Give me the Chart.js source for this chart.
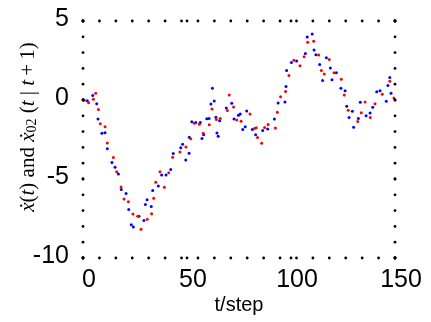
<!DOCTYPE html>
<html>
<head>
<meta charset="utf-8">
<script src="https://cdn.jsdelivr.net/npm/chart.js@4.4.1/dist/chart.umd.min.js"></script>
<style>
  html, body { margin: 0; padding: 0; background: #fff; }
</style>
</head>
<body>
<canvas id="myChart" width="431" height="322"></canvas>
<script>
// values
var blueT = [0.2, 2.1, 4.7, 6.6, 7.2, 9.1, 10.6, 11.7, 13.9, 15.4, 17, 18.4, 20.7, 22, 23.2, 24.2, 26.9, 29.3, 30, 30.8,
  32.8, 33.5, 36.2, 37.8, 39.9, 42.2, 43.4, 47, 47.9, 49.4, 51, 51.1, 52.3, 54.2, 56.4, 57.2, 58, 59.5, 60.6, 61.5,
  62.2, 63.1, 63.9, 64.4, 65, 65.7, 68.9, 71.5, 72.6, 74.7, 75.6, 76.8, 78, 78.7, 81.4, 83, 86.4, 88.8, 92, 93.8,
  97.1, 97.6, 97.9, 100.2, 102.7, 106.9, 107.8, 110.2, 111.1, 112, 113.8, 115.2, 117, 118.9, 119.7, 121.8, 124, 126, 126.8, 127.9,
  129.5, 130.1, 132.4, 133.3, 136.1, 138, 139.3, 141.2, 142.8, 145.8, 146.6, 147.5, 148.1];
var blueV = [0.02, -0.04, 0.29, -0.23, -1.2, -2.1, -2.07, -3.08, -3.96, -4.25, -4.69, -5.67, -5.92, -6.93, -7.9, -8.04, -7.35, -7.62, -6.61, -6.32,
  -6.74, -5.73, -5.44, -4.75, -4.75, -4.4, -3.39, -3.02, -2.8, -3.79, -3.37, -2.35, -1.38, -1.43, -1.43, -2.43, -2.2, -1.19, -1.17, -0.25,
  0.75, -0.07, -1.09, -2.09, -2.3, -1.32, -0.5, -0.21, -1.21, -0.96, -0.88, -1.86, -1.7, -0.69, -1.86, -2.2, -1.93, -1.84, -1.2, -0.19,
  -0.13, 0.86, 1.86, 2.38, 2.47, 2.95, 3.98, 4.18, 3.16, 2.87, 2.24, 1.23, 2.68, 2.03, 1.28, 1.72, 0.75, 0.59, -0.4, -1.11,
  -0.71, -1.72, -1.17, -0.15, -1.0, -0.82, -0.46, 0.52, 0.59, -0.08, 0.92, 1.42, 0.42];

var redT = [0.6, 2.7, 5, 6.1, 7.4, 8.3, 10.6, 11.7, 14.6, 16.2, 18.3, 19.7, 21.8, 24, 26.3, 27.9, 30.9, 33, 34, 35,
  37, 39.1, 41.2, 43.1, 46.6, 49.5, 51.8, 53.5, 55.9, 57.8, 60.7, 62, 64.1, 66, 69.4, 70.3, 72.4, 73.9, 76, 80.3,
  82.4, 83.3, 83.9, 85.9, 87.3, 89, 92.5, 93.4, 95, 97.4, 99, 101.4, 104.3, 106.3, 108, 110.9, 113.3, 114.6, 116, 118.4,
  120.7, 124.2, 125.6, 127.5, 132.1, 133.8, 135.6, 138.1, 140.4, 143.9, 147.5, 149.5];
var redV = [-0.02, -0.17, 0.04, 0.42, -0.6, -1.5, -1.7, -2.72, -3.64, -4.54, -5.5, -6.26, -6.44, -7.22, -7.35, -8.18, -7.55, -7.2, -6.22, -5.21,
  -4.54, -5.52, -4.6, -3.62, -3.29, -2.97, -2.45, -1.47, -1.53, -2.1, -1.57, -0.57, -1.23, -1.17, -0.67, 0.31, -0.44, -1.27, -1.35, -0.88,
  -1.8, -1.76, -2.38, -2.74, -1.74, -1.55, -1.78, -0.78, 0.21, 0.54, 1.55, 2.51, 2.16, 2.74, 3.66, 3.72, 2.85, 1.86, 1.65, 2.57,
  1.72, 1.32, 0.31, -0.65, -1.36, -0.8, -0.13, -1.11, -0.23, 0.37, 1.19, 0.12];

var xTicks = [0, 50, 100, 150];
var yTicks = [-10, -5, 0, 5];

function toPoints(ts, vs) {
  var pts = [];
  for (var i = 0; i < ts.length; i++) {
    pts.push({ x: ts[i], y: vs[i] });
  }
  return pts;
}

// dotted box + tick dots, like the matlab export
var dottedFrame = {
  id: 'dottedFrame',
  afterDraw: function(chart) {
    var ctx = chart.ctx;
    var a = chart.chartArea;
    var r = 1.4;
    function dot(x, y) {
      ctx.beginPath();
      ctx.arc(x, y, r, 0, Math.PI * 2);
      ctx.fill();
    }
    ctx.save();
    ctx.fillStyle = '#000';
    var w = a.right - a.left, h = a.bottom - a.top;
    var nx = Math.round(w / 16.5), ny = Math.round(h / 16);
    for (var i = 0; i <= nx; i++) {
      var x = a.left + i * w / nx;
      dot(x, a.top);
      dot(x, a.bottom);
    }
    for (var j = 0; j <= ny; j++) {
      var y = a.bottom - j * h / ny;
      dot(a.left, y);
      dot(a.right, y);
    }
    xTicks.forEach(function(t) {
      var px = chart.scales.x.getPixelForValue(t);
      dot(px, a.top);
      dot(px, a.bottom);
    });
    yTicks.forEach(function(t) {
      var py = chart.scales.y.getPixelForValue(t);
      dot(a.left, py);
      dot(a.right, py);
    });
    ctx.restore();
  }
};

// y axis title with italic / subscript parts
var yTitle = {
  id: 'yTitle',
  afterDraw: function(chart) {
    var ctx = chart.ctx;
    var fam = '"Liberation Serif", "Times New Roman", serif';
    var size = 21;
    var parts = [
      { t: 'ẋ', f: 'italic ' + size + 'px ' + fam },
      { t: '(', f: size + 'px ' + fam },
      { t: 't', f: 'italic ' + size + 'px ' + fam },
      { t: ') and ', f: size + 'px ' + fam },
      { t: 'ẋ', f: 'italic ' + size + 'px ' + fam },
      { t: '02', f: '14px ' + fam, sub: 4 },
      { t: ' (', f: size + 'px ' + fam },
      { t: 't', f: 'italic ' + size + 'px ' + fam },
      { t: ' | ', f: size + 'px ' + fam },
      { t: 't', f: 'italic ' + size + 'px ' + fam },
      { t: '\u2009+\u20091)', f: size + 'px ' + fam }
    ];
    ctx.save();
    var total = 0;
    parts.forEach(function(p) {
      ctx.font = p.f;
      p.w = ctx.measureText(p.t).width;
      total += p.w;
    });
    ctx.translate(28, 127);
    ctx.rotate(-Math.PI / 2);
    ctx.fillStyle = '#000';
    ctx.textBaseline = 'middle';
    var x = -total / 2;
    parts.forEach(function(p) {
      ctx.font = p.f;
      ctx.fillText(p.t, x, p.sub || 0);
      x += p.w;
    });
    ctx.restore();
  }
};

var ctx = document.getElementById('myChart').getContext('2d');
var myChart = new Chart(ctx, {
  type: 'scatter',
  data: {
    datasets: [{
      label: 'x02',
      data: toPoints(redT, redV),
      backgroundColor: '#ff0000',
      borderWidth: 0,
      pointRadius: 1.5
    }, {
      label: 'x',
      data: toPoints(blueT, blueV),
      backgroundColor: '#0000ff',
      borderWidth: 0,
      pointRadius: 1.5
    }]
  },
  options: {
    responsive: false,
    animation: false,
    layout: { padding: { left: 0, right: 36, top: 19, bottom: 0 } },
    plugins: {
      legend: { display: false },
      tooltip: { enabled: false }
    },
    scales: {
      x: {
        type: 'linear',
        min: 0,
        max: 150,
        grid: { display: false },
        border: { display: false },
        afterBuildTicks: function(scale) {
          scale.ticks = xTicks.map(function(v) { return { value: v }; });
        },
        afterFit: function(scale) { scale.height = 64; },
        ticks: {
          color: '#000',
          padding: -1,
          labelOffset: 6,
          maxRotation: 0,
          font: { family: '"Liberation Sans", Arial, sans-serif', size: 25 }
        },
        title: {
          display: true,
          text: 't/step',
          color: '#000',
          font: { family: '"Liberation Sans", Arial, sans-serif', size: 20, lineHeight: 1.3 }
        }
      },
      y: {
        min: -10,
        max: 5,
        grid: { display: false },
        border: { display: false },
        afterBuildTicks: function(scale) {
          scale.ticks = yTicks.map(function(v) { return { value: v }; });
        },
        afterFit: function(scale) { scale.width = 83; },
        ticks: {
          color: '#000',
          padding: 6,
          labelOffset: -2,
          font: { family: '"Liberation Sans", Arial, sans-serif', size: 25 }
        }
      }
    }
  },
  plugins: [dottedFrame, yTitle]
});
</script>
</body>
</html>
